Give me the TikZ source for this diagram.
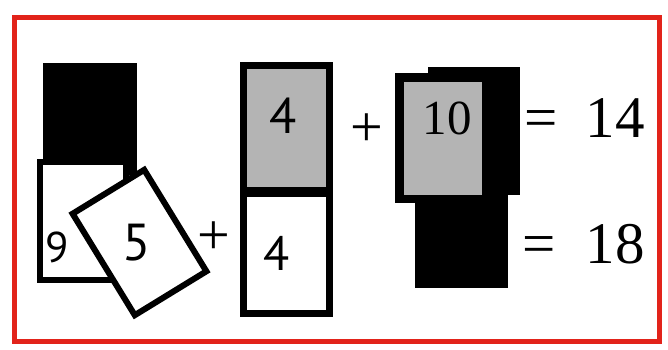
\documentclass[tikz,border=0pt]{standalone}
\usepackage{fontspec}
\setmainfont{Liberation Serif}
\newfontfamily\digsans{PT Sans}
\definecolor{frame}{HTML}{E2231A}
\definecolor{cardgray}{HTML}{B4B4B4}
\begin{document}
\begin{tikzpicture}[x=1pt,y=-1pt,
  serifbig/.style={font=\fontsize{59}{64}\selectfont, inner sep=0pt, anchor=base},
  plussign/.style={font=\fontsize{58}{64}\selectfont, inner sep=0pt},
  sansdig/.style={font=\digsans\fontsize{#1}{#1}\selectfont, inner sep=0pt},
  cardline/.style={draw=black, line width=6pt}]
\useasboundingbox (0,0) rectangle (668,349);
\fill[white] (0,0) rectangle (668,349);
% frame
\draw[frame, line width=5pt] (14,17) rectangle (659,341);

% ---- left group ----
\fill[black] (43,63) rectangle (137,175);
\draw[cardline, fill=white] (40,162) rectangle (126,280);
\node[sansdig=43] (nine) at (57,247) {9};
\node[cardline, fill=white, rotate=31.5, minimum width=84pt, minimum height=119pt, inner sep=0pt] (fivecard) at (139.5,242.5) {};
\node[sansdig=52] (five) at (137,243) {5};
\node[plussign] (plusA) at (214,238) {+};

% ---- middle group ----
\fill[cardgray] (244,66) rectangle (330,192);
\fill[white] (244,192) rectangle (330,313);
\draw[black, line width=7pt] (243.5,65.5) rectangle (329.5,313.5);
\draw[black, line width=10pt] (240,192) -- (333,192);
\node[sansdig=50] (fourA) at (283,116) {4};
\node[sansdig=48] (fourB) at (277,253) {4};
\node[plussign] (plusB) at (367,130) {+};

% ---- right group ----
\fill[black] (428,67) rectangle (520,195);
\fill[black] (415,190) rectangle (508,288);
\fill[black] (395,73) rectangle (490,203);
\fill[cardgray] (404,82) rectangle (482,195);
\node[font=\fontsize{49}{54}\selectfont, inner sep=0pt] (ten) at (447,118) {10};

\node[serifbig] (eqA) at (541,137) {=};
\node[serifbig] (fourteen) at (615,137) {14};
\node[serifbig] (eqB) at (539,263) {=};
\node[serifbig] (eighteen) at (615,263) {18};
\end{tikzpicture}
\end{document}
